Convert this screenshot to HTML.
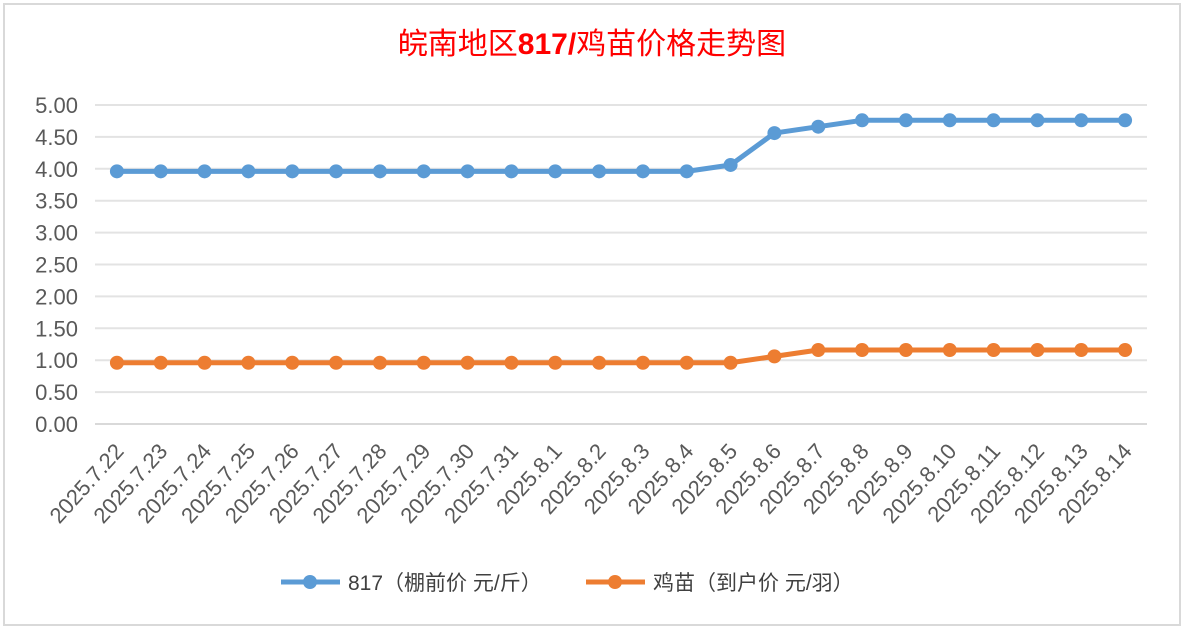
<!DOCTYPE html>
<html><head><meta charset="utf-8"><style>
html,body{margin:0;padding:0;background:#fff;}
svg{display:block;font-family:"Liberation Sans","Noto Sans CJK SC",sans-serif;}
</style></head><body>
<svg id="chart" width="1184" height="629">
<rect x="0" y="0" width="1184" height="629" fill="#fff"/>
<rect x="4" y="4" width="1176" height="621" fill="#fff" stroke="#d9d9d9" stroke-width="2"/>
<text x="592" y="54" text-anchor="middle" font-size="30" fill="#ff0000" font-family="'Noto Sans CJK SC','Liberation Sans',sans-serif">皖南地区<tspan font-weight="bold" font-family="'Liberation Sans',sans-serif">817/</tspan>鸡苗价格走势图</text>
<g id="grid"></g><g id="yt"></g><g id="xt"></g><g id="series"></g>
<g>
<g>
<line x1="281" y1="582" x2="340" y2="582" stroke="#5b9bd5" stroke-width="5"/>
<circle cx="310" cy="582" r="7" fill="#5b9bd5"/>
<text x="348" y="590" font-size="21" fill="#404040">817（棚前价 元/斤）</text></g>
<g>
<line x1="586" y1="582" x2="645" y2="582" stroke="#ed7d31" stroke-width="5"/>
<circle cx="615" cy="582" r="7" fill="#ed7d31"/>
<text x="653" y="590" font-size="21" fill="#404040">鸡苗（到户价 元/羽）</text></g>
</g>
</svg>
<script>
const categories=["2025.7.22","2025.7.23","2025.7.24","2025.7.25","2025.7.26","2025.7.27","2025.7.28","2025.7.29","2025.7.30","2025.7.31","2025.8.1","2025.8.2","2025.8.3","2025.8.4","2025.8.5","2025.8.6","2025.8.7","2025.8.8","2025.8.9","2025.8.10","2025.8.11","2025.8.12","2025.8.13","2025.8.14"];
const series817=[3.96,3.96,3.96,3.96,3.96,3.96,3.96,3.96,3.96,3.96,3.96,3.96,3.96,3.96,4.06,4.56,4.66,4.76,4.76,4.76,4.76,4.76,4.76,4.76];
const seriesChick=[0.96,0.96,0.96,0.96,0.96,0.96,0.96,0.96,0.96,0.96,0.96,0.96,0.96,0.96,0.96,1.06,1.16,1.16,1.16,1.16,1.16,1.16,1.16,1.16];
const yTicks=[0,0.5,1,1.5,2,2.5,3,3.5,4,4.5,5];
const NS="http://www.w3.org/2000/svg";
const x0=95,x1=1147,yb=424,yt=105,yMax=5;
const step=(x1-x0)/categories.length;
function xs(i){return x0+step*(i+0.5);}
function ys(v){return yb-(v/yMax)*(yb-yt);}
function mk(tag,attrs,parent){const e=document.createElementNS(NS,tag);for(const k in attrs)e.setAttribute(k,attrs[k]);parent.appendChild(e);return e;}
const grid=document.getElementById('grid'),ytg=document.getElementById('yt'),xtg=document.getElementById('xt'),sg=document.getElementById('series');
yTicks.forEach(v=>{
 const l=mk('line',{x1:x0,x2:x1,y1:ys(v),y2:ys(v),stroke:v===0?'#d9d9d9':'#e3e3e3','stroke-width':2},grid);
 
 
 const t=mk('text',{x:78,y:ys(v)+8,'text-anchor':'end','font-size':22,fill:'#595959'},ytg);
 t.textContent=v.toFixed(2);
 
 
});
categories.forEach((c,i)=>{
 const x=xs(i)+8,y=452;
 const t=mk('text',{x:x,y:y,'text-anchor':'end','font-size':22,fill:'#595959',transform:`rotate(-48 ${x} ${y})`},xtg);
 t.textContent=c;
 
 
});
function draw(vals,color,name){
 const g=mk('g',{},sg);
 
 
 const p=mk('polyline',{points:vals.map((v,i)=>xs(i)+','+ys(v)).join(' '),fill:'none',stroke:color,'stroke-width':5,'stroke-linejoin':'round'},g);
 
 
 vals.forEach((v,i)=>{
  const c=mk('circle',{cx:xs(i),cy:ys(v),r:7,fill:color},g);
  
  
 });
}
draw(series817,'#5b9bd5','series-817');
draw(seriesChick,'#ed7d31','series-chick');
</script>
</body></html>
